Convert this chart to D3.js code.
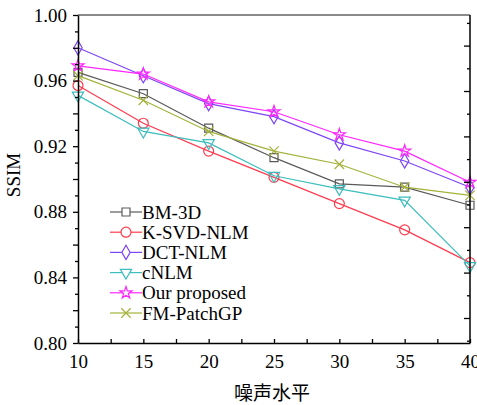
<!DOCTYPE html>
<html>
<head>
<meta charset="utf-8">
<script src="https://cdn.jsdelivr.net/npm/d3@7"></script>
<style>
    body { margin: 0; background: #fff; }
</style>
</head>
<body>
<div id="chart"></div>
<script>

// noise levels on the x axis
const noiseLevels = [10, 15, 20, 25, 30, 35, 40];

// SSIM per method
const bm3d      = [0.965, 0.952, 0.931, 0.913, 0.897, 0.895, 0.884];
const ksvdNlm   = [0.957, 0.934, 0.917, 0.901, 0.885, 0.869, 0.849];
const dctNlm    = [0.980, 0.963, 0.946, 0.938, 0.922, 0.911, 0.895];
const cNlm      = [0.951, 0.929, 0.922, 0.902, 0.894, 0.887, 0.847];
const ourMethod = [0.969, 0.964, 0.947, 0.941, 0.927, 0.917, 0.898];
const fmPatchGP = [0.963, 0.948, 0.929, 0.917, 0.909, 0.895, 0.890];

const seriesNames = ["BM-3D", "K-SVD-NLM", "DCT-NLM", "cNLM", "Our proposed", "FM-PatchGP"];
const seriesValues = [bm3d, ksvdNlm, dctNlm, cNlm, ourMethod, fmPatchGP];

// tick labels
const xTickLabels = [10, 15, 20, 25, 30, 35, 40];
const yTickLabels = [0.80, 0.84, 0.88, 0.92, 0.96, 1.00];

const xTitle = "噪声水平";
const yTitle = "SSIM";

// styling per series
const colors = ["#5a5a5a", "#ff3b4e", "#7d45f5", "#3dbdbd", "#ff26ff", "#a4b23a"];
const symbolTypes = ["square", "circle", "diamond", "triangleDown", "star", "x"];

const serif = "'Liberation Serif', 'Times New Roman', serif";

let margin = {top: 15, right: 7, bottom: 62, left: 78};
let width = 477 - margin.left - margin.right;
let height = 405 - margin.top - margin.bottom;

let svg = d3.select("#chart").append("svg")
    .attr("width", 477)
    .attr("height", 405)
    .append("g")
    .attr("transform", `translate(${margin.left}, ${margin.top})`);

let x = d3.scaleLinear().domain([10, 40]).range([0, width]);
let y = d3.scaleLinear().domain([0.80, 1.00]).range([height, 0]);

// symbol path for a given type
function symbolPath(type) {
    let gen;
    if (type === "square") gen = d3.symbol(d3.symbolSquare, 64);
    else if (type === "circle") gen = d3.symbol(d3.symbolCircle, 78);
    else if (type === "diamond") gen = d3.symbol(d3.symbolDiamond, 60);
    else if (type === "triangleDown") gen = d3.symbol(d3.symbolTriangle, 55);
    else if (type === "star") gen = d3.symbol(d3.symbolStar, 45);
    else gen = d3.symbol(d3.symbolTimes || d3.symbolX, 60);
    return gen();
}
function symbolRotate(type) {
    return type === "triangleDown" ? " rotate(180)" : "";
}

// top border
svg.append("line")
    .attr("x1", 0).attr("x2", width)
    .attr("y1", 0).attr("y2", 0)
    .attr("stroke", "#8a8a8a")
    .attr("stroke-width", 2);

// series lines + markers
let line = d3.line()
    .x((d, i) => x(noiseLevels[i]))
    .y(d => y(d));

seriesValues.forEach((vals, s) => {
    svg.append("path")
        .datum(vals)
        .attr("fill", "none")
        .attr("stroke", colors[s])
        .attr("stroke-width", 1.2)
        .attr("d", line);

    svg.selectAll(".m" + s)
        .data(vals)
        .enter()
        .append("path")
        .attr("class", "m" + s)
        .attr("d", symbolPath(symbolTypes[s]))
        .attr("transform", (d, i) => `translate(${x(noiseLevels[i])},${y(d)})` + symbolRotate(symbolTypes[s]))
        .attr("fill", "none")
        .attr("stroke", colors[s])
        .attr("stroke-width", 1.2);
});

// left axis: ticks every 0.01, longer every 0.02, labels every 0.04
let yTickVals = d3.range(0, 21).map(i => +(0.80 + i * 0.01).toFixed(2));
let yAxis = svg.append("g")
    .call(d3.axisLeft(y)
        .tickValues(yTickVals)
        .tickSize(5)
        .tickSizeOuter(0)
        .tickPadding(6)
        .tickFormat(d => yTickLabels.some(v => Math.abs(v - d) < 1e-6) ? d.toFixed(2) : ""));
yAxis.select(".domain").attr("stroke", "#000").attr("stroke-width", 1.5);
yAxis.selectAll(".tick line")
    .attr("stroke", "#000")
    .attr("stroke-width", 1.3)
    .attr("x2", d => (Math.round(d * 100) % 2 === 0) ? -5 : -3);
yAxis.selectAll("text")
    .style("font-family", serif)
    .style("font-size", "19px")
    .attr("fill", "#000");

// bottom axis: ticks inside, minor at half steps
let xTickVals = d3.range(10, 40.01, 2.5);
let xAxis = svg.append("g")
    .attr("transform", `translate(0, ${height})`)
    .call(d3.axisBottom(x)
        .tickValues(xTickVals)
        .tickSize(-4)
        .tickSizeOuter(0)
        .tickPadding(12)
        .tickFormat(d => xTickLabels.includes(d) ? d : ""));
xAxis.select(".domain").attr("stroke", "#000").attr("stroke-width", 1.5);
xAxis.selectAll(".tick line").attr("stroke", "#000").attr("stroke-width", 1.3);
xAxis.selectAll("text")
    .style("font-family", serif)
    .style("font-size", "19px")
    .attr("fill", "#000");

// right axis: inward ticks
let yRight = d3.scaleLinear().domain([0, 14]).range([height - 2.3, 7.9]);
let rightAxis = svg.append("g")
    .attr("transform", `translate(${width}, 0)`)
    .call(d3.axisRight(yRight)
        .tickValues(d3.range(0, 15))
        .tickSize(-6)
        .tickSizeOuter(0)
        .tickFormat(""));
rightAxis.select(".domain").attr("stroke", "#000").attr("stroke-width", 1.5)
    .attr("d", `M0,0V${height}`);
rightAxis.selectAll(".tick line")
    .attr("stroke", "#000")
    .attr("stroke-width", 1.3)
    .attr("x2", d => d % 2 === 1 ? -6 : -3);

// axis titles
svg.append("text")
    .attr("x", width / 2 - 2)
    .attr("y", height + 57)
    .attr("text-anchor", "middle")
    .style("font-size", "19px")
    .style("font-family", "'Noto Sans CJK SC', sans-serif")
    .text(xTitle);

svg.append("text")
    .attr("transform", `translate(${-58}, ${height / 2 - 4}) rotate(-90)`)
    .attr("text-anchor", "middle")
    .style("font-size", "19px")
    .style("font-family", serif)
    .text(yTitle);

// legend
let legend = svg.append("g").attr("transform", `translate(${32}, ${197})`);
seriesNames.forEach((name, s) => {
    let row = legend.append("g").attr("transform", `translate(0, ${s * 20.2})`);
    row.append("line")
        .attr("x1", 0).attr("x2", 32)
        .attr("stroke", colors[s])
        .attr("stroke-width", 1.2);
    row.append("path")
        .attr("d", symbolPath(symbolTypes[s]))
        .attr("transform", "translate(16,0)" + symbolRotate(symbolTypes[s]))
        .attr("fill", "#fff")
        .attr("stroke", colors[s])
        .attr("stroke-width", 1.2);
    row.append("text")
        .attr("x", 32)
        .attr("y", 0)
        .attr("dy", "0.35em")
        .style("font-size", "19px")
        .style("font-family", serif)
        .attr("fill", "#000")
        .text(name);
});

</script>
</body>
</html>
